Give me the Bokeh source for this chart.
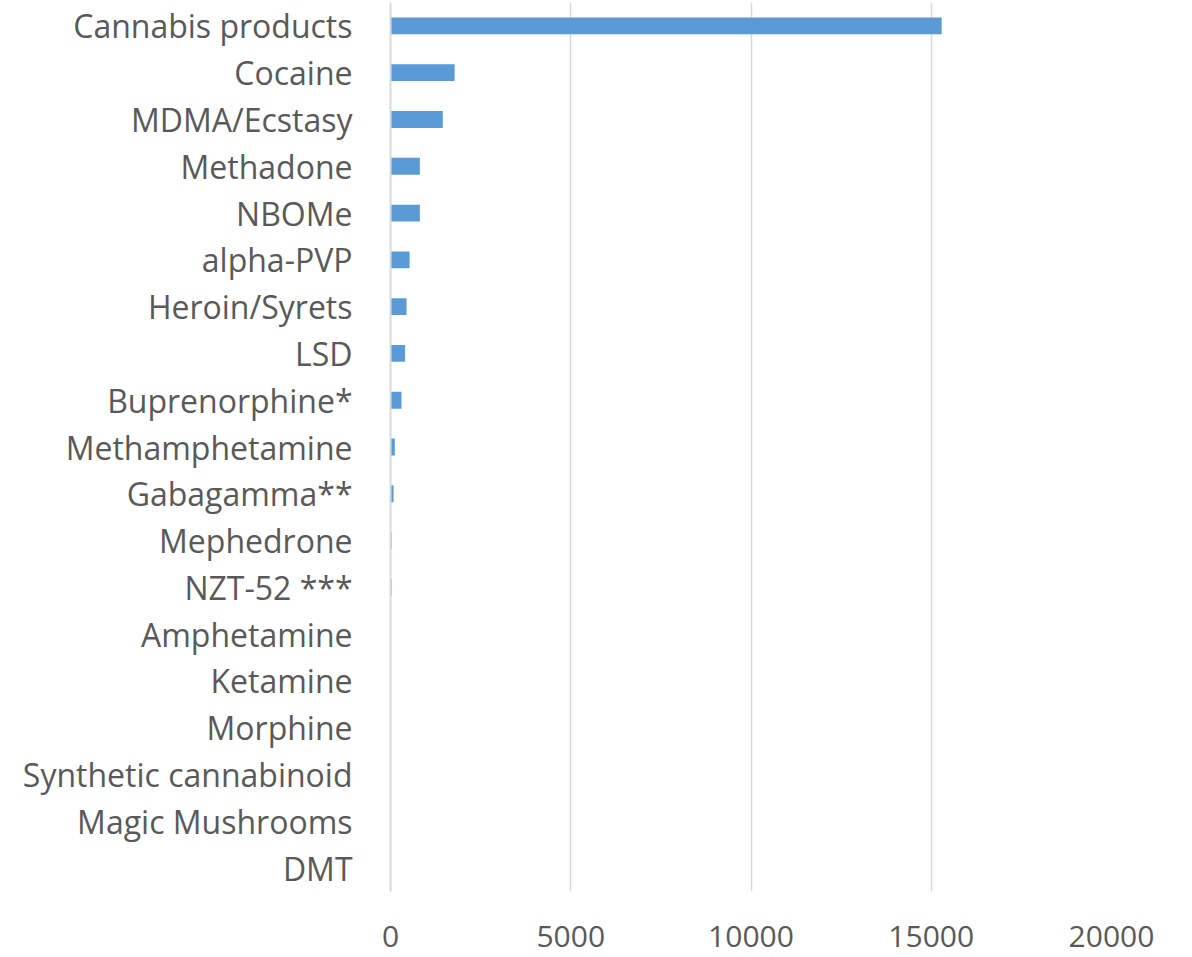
from bokeh.plotting import figure
from bokeh.models import FactorRange, Range1d, FixedTicker
from bokeh.embed import file_html
from bokeh.resources import INLINE

# Substances and counts, top to bottom
substances = [
    "Cannabis products", "Cocaine", "MDMA/Ecstasy", "Methadone", "NBOMe",
    "alpha-PVP", "Heroin/Syrets", "LSD", "Buprenorphine*", "Methamphetamine",
    "Gabagamma**", "Mephedrone", "NZT-52 ***", "Amphetamine", "Ketamine",
    "Morphine", "Synthetic cannabinoid", "Magic Mushrooms", "DMT",
]
counts = [
    15290, 1780, 1450, 815, 815,
    530, 445, 405, 305, 120,
    85, 30, 30, 10, 3,
    2, 1, 1, 0,
]
x_ticks = [0, 5000, 10000, 15000, 20000]

FONT = "Open Sans"
TEXT = "#595959"
GRID = "#d9d9d9"
BAR = "#5b9bd5"

p = figure(
    width=1192, height=957,
    y_range=FactorRange(factors=list(reversed(substances)), range_padding=0),
    x_range=Range1d(0, 20000),
    output_backend="svg", toolbar_location=None,
    min_border_left=390, min_border_right=81,
    min_border_top=2, min_border_bottom=66,
)
p.hbar(y=substances, right=counts, height=0.36, color=BAR, line_color=None)

p.outline_line_color = None
p.background_fill_color = "white"
p.border_fill_color = "white"

p.xaxis.ticker = FixedTicker(ticks=x_ticks)
p.xaxis.axis_line_color = None
p.xaxis.major_tick_line_color = None
p.xaxis.minor_tick_line_color = None
p.xaxis.major_label_standoff = 28
p.xaxis.major_label_text_font = FONT
p.xaxis.major_label_text_font_size = "30px"
p.xaxis.major_label_text_color = TEXT

p.yaxis.axis_line_color = GRID
p.yaxis.axis_line_width = 2
p.yaxis.major_tick_line_color = None
p.yaxis.minor_tick_line_color = None
p.yaxis.major_label_standoff = 32
p.yaxis.major_label_text_font = FONT
p.yaxis.major_label_text_font_size = "32px"
p.yaxis.major_label_text_color = TEXT

p.xgrid.grid_line_color = GRID
p.xgrid.grid_line_width = 1.5
p.ygrid.grid_line_color = None

open("out.html", "w").write(file_html(p, INLINE))
